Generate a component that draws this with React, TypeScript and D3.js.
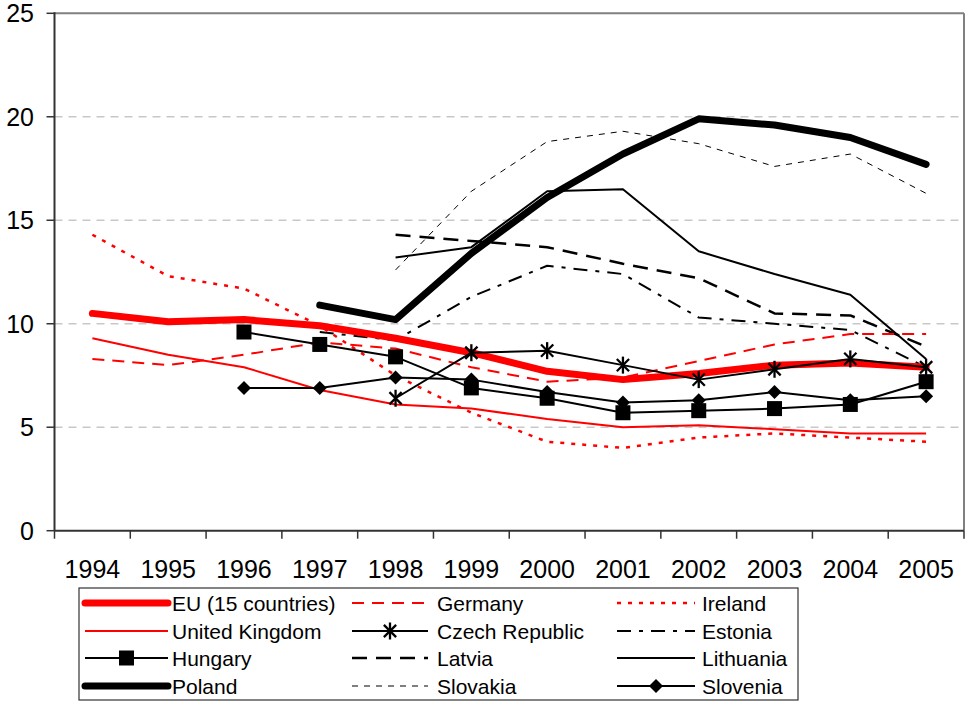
import React from "react";
import * as d3 from "d3";

const years = ["1994","1995","1996","1997","1998","1999","2000","2001","2002","2003","2004","2005"];
const yTicks = [0, 5, 10, 15, 20, 25];

type V = number | null;
const eu: V[] = [10.5, 10.1, 10.2, 9.9, 9.3, 8.6, 7.7, 7.3, 7.6, 8.0, 8.1, 7.9];
const germany: V[] = [8.3, 8.0, 8.5, 9.1, 8.8, 7.9, 7.2, 7.4, 8.2, 9.0, 9.5, 9.5];
const ireland: V[] = [14.3, 12.3, 11.7, 9.9, 7.5, 5.7, 4.3, 4.0, 4.5, 4.7, 4.5, 4.3];
const uk: V[] = [9.3, 8.5, 7.9, 6.8, 6.1, 5.9, 5.4, 5.0, 5.1, 4.9, 4.7, 4.7];
const czech: V[] = [null, null, null, null, 6.4, 8.6, 8.7, 8.0, 7.3, 7.8, 8.3, 7.9];
const estonia: V[] = [null, null, null, 9.6, 9.2, 11.3, 12.8, 12.4, 10.3, 10.0, 9.7, 7.9];
const hungary: V[] = [null, null, 9.6, 9.0, 8.4, 6.9, 6.4, 5.7, 5.8, 5.9, 6.1, 7.2];
const latvia: V[] = [null, null, null, null, 14.3, 14.0, 13.7, 12.9, 12.2, 10.5, 10.4, 8.9];
const lithuania: V[] = [null, null, null, null, 13.2, 13.7, 16.4, 16.5, 13.5, 12.4, 11.4, 8.3];
const poland: V[] = [null, null, null, 10.9, 10.2, 13.4, 16.1, 18.2, 19.9, 19.6, 19.0, 17.7];
const slovakia: V[] = [null, null, null, null, 12.6, 16.4, 18.8, 19.3, 18.7, 17.6, 18.2, 16.3];
const slovenia: V[] = [null, null, 6.9, 6.9, 7.4, 7.3, 6.7, 6.2, 6.3, 6.7, 6.3, 6.5];

type Marker = "none" | "star" | "square" | "diamond";
interface S { name: string; values: V[]; color: string; width: number; dash?: string; marker: Marker; cap?: string }

const series: S[] = [
  { name: "EU (15 countries)", values: eu, color: "#ff0000", width: 7, marker: "none", cap: "round" },
  { name: "Germany", values: germany, color: "#ff0000", width: 2, dash: "12,8", marker: "none" },
  { name: "Ireland", values: ireland, color: "#ff0000", width: 2.5, dash: "4,7", marker: "none" },
  { name: "United Kingdom", values: uk, color: "#ff0000", width: 2, marker: "none" },
  { name: "Czech Republic", values: czech, color: "#000000", width: 2, marker: "star" },
  { name: "Estonia", values: estonia, color: "#000000", width: 2, dash: "14,8,4,8", marker: "none" },
  { name: "Hungary", values: hungary, color: "#000000", width: 2, marker: "square" },
  { name: "Latvia", values: latvia, color: "#000000", width: 2.5, dash: "15,9", marker: "none" },
  { name: "Lithuania", values: lithuania, color: "#000000", width: 2, marker: "none" },
  { name: "Poland", values: poland, color: "#000000", width: 7, marker: "none", cap: "round" },
  { name: "Slovakia", values: slovakia, color: "#000000", width: 1, dash: "6,6", marker: "none" },
  { name: "Slovenia", values: slovenia, color: "#000000", width: 2, marker: "diamond" },
];

const drawOrder = ["Slovakia", "Latvia", "Estonia", "Lithuania", "Poland", "Ireland", "Germany", "United Kingdom", "EU (15 countries)", "Hungary", "Slovenia", "Czech Republic"];

const W = 965, H = 701;
const left = 54.5, right = 964, top = 13.3, bottom = 530.7;

function MarkerShape({ type, x, y }: { type: Marker; x: number; y: number }) {
  if (type === "square") {
    const s = 15;
    return <rect x={x - s / 2} y={y - s / 2} width={s} height={s} fill="#000" />;
  }
  if (type === "diamond") {
    const r = 7;
    return <path d={`M${x},${y - r}L${x + r},${y}L${x},${y + r}L${x - r},${y}Z`} fill="#000" />;
  }
  if (type === "star") {
    const r = 8.5;
    const d = r * 0.72;
    return (
      <g stroke="#000" strokeWidth={2.3}>
        <line x1={x} y1={y - r} x2={x} y2={y + r} />
        <line x1={x - d} y1={y - d} x2={x + d} y2={y + d} />
        <line x1={x - d} y1={y + d} x2={x + d} y2={y - d} />
      </g>
    );
  }
  return null;
}

export default function App() {
  const x = d3.scaleBand<string>().domain(years).range([left, right]).padding(0);
  const y = d3.scaleLinear().domain([0, 25]).range([bottom, top]);
  const cx = (i: number) => (x(years[i]) as number) + x.bandwidth() / 2;

  const line = d3
    .line<V>()
    .defined((d) => d !== null)
    .x((_, i) => cx(i))
    .y((d) => y(d as number));

  const ordered = drawOrder.map((n) => series.find((s) => s.name === n)!);

  const font = "Arial, 'Liberation Sans', sans-serif";

  const legX = 79, legY = 588, legW = 719, legH = 112;
  const rowY = [603, 631, 658, 686];
  const cols = [
    { x1: 85, x2: 168, tx: 172 },
    { x1: 352, x2: 428, tx: 437 },
    { x1: 617, x2: 695, tx: 702 },
  ];

  return (
    <svg width={W} height={H} style={{ position: "absolute", left: 0, top: 0, background: "#fff" }} fontFamily={font}>
      <rect x={0} y={0} width={W} height={H} fill="#fff" />
      {yTicks.filter((t) => t > 0 && t < 25).map((t) => (
        <line key={t} x1={left} x2={right} y1={y(t)} y2={y(t)} stroke="#c8c8c8" strokeWidth={1.5} strokeDasharray="8,6" />
      ))}
      <line x1={left} x2={right} y1={top} y2={top} stroke="#808080" strokeWidth={2} />
      <line x1={right} x2={right} y1={top} y2={bottom} stroke="#808080" strokeWidth={2} />
      {ordered.map((s) => (
        <g key={s.name}>
          <path
            d={line(s.values) || ""}
            fill="none"
            stroke={s.color}
            strokeWidth={s.width}
            strokeDasharray={s.dash}
            strokeLinejoin="round"
            strokeLinecap={(s.cap as any) || "butt"}
          />
          {s.marker !== "none" &&
            s.values.map((v, i) => (v === null ? null : <MarkerShape key={i} type={s.marker} x={cx(i)} y={y(v)} />))}
        </g>
      ))}
      <line x1={left} x2={left} y1={top - 1} y2={bottom} stroke="#333" strokeWidth={2} />
      <line x1={left} x2={right} y1={bottom} y2={bottom} stroke="#333" strokeWidth={2} />
      {yTicks.map((t) => (
        <g key={t}>
          <line x1={left - 8} x2={left} y1={y(t)} y2={y(t)} stroke="#333" strokeWidth={1.5} />
          <text x={34} y={y(t)} dy="0.36em" textAnchor="end" fontSize={25} fill="#000">{t}</text>
        </g>
      ))}
      {years.map((yr, i) => (
        <g key={yr}>
          <line x1={x(yr) as number} x2={x(yr) as number} y1={bottom} y2={bottom + 8} stroke="#333" strokeWidth={1.5} />
          <text x={cx(i)} y={578} textAnchor="middle" fontSize={25} fill="#000">{yr}</text>
        </g>
      ))}
      <line x1={right} x2={right} y1={bottom} y2={bottom + 8} stroke="#333" strokeWidth={1.5} />
      <rect x={legX} y={legY} width={legW} height={legH} fill="#fff" stroke="#333" strokeWidth={1.2} />
      {series.map((s, k) => {
        const r = Math.floor(k / 3);
        const c = cols[k % 3];
        const ly = rowY[r];
        const mx = (c.x1 + c.x2) / 2;
        return (
          <g key={s.name}>
            <line
              x1={c.x1}
              x2={c.x2}
              y1={ly}
              y2={ly}
              stroke={s.color}
              strokeWidth={s.width}
              strokeDasharray={s.dash}
              strokeLinecap={(s.cap as any) || "butt"}
            />
            {s.marker !== "none" && <MarkerShape type={s.marker} x={mx} y={ly} />}
            <text x={c.tx} y={ly} dy="0.36em" fontSize={21} fill="#000">{s.name}</text>
          </g>
        );
      })}
    </svg>
  );
}
